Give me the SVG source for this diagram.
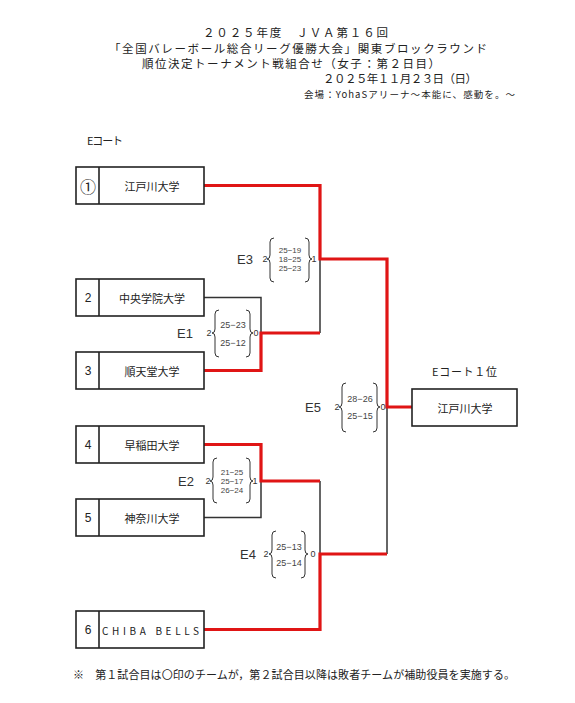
<svg xmlns="http://www.w3.org/2000/svg" width="575" height="703" viewBox="0 0 575 703">
<style>
text{font-family:"Noto Sans CJK JP","Liberation Sans",sans-serif;fill:#222}
.t{font-size:11.5px}
.box{fill:#fff;stroke:#222;stroke-width:1.6}
.nm{font-size:11px;text-anchor:middle;dominant-baseline:central}
.num{font-size:12px;text-anchor:middle;dominant-baseline:central;font-family:"Liberation Sans","Noto Sans CJK JP",sans-serif}
.red{fill:none;stroke:#e01515;stroke-width:3.2}
.blk{fill:none;stroke:#333;stroke-width:1.5}
.br{fill:none;stroke:#333;stroke-width:1}
.sc{font-size:9px;text-anchor:middle;dominant-baseline:central;font-family:"Liberation Sans",sans-serif;fill:#444}
.sc3{font-size:8px}
.lb{font-size:13px;dominant-baseline:central;font-family:"Liberation Sans",sans-serif;fill:#333}
.sm{font-size:9px;dominant-baseline:central;font-family:"Liberation Sans",sans-serif;fill:#333}
</style>
<rect width="575" height="703" fill="#fff"/>
<g id="title">
<text class="t" x="203" y="37" textLength="185">２０２５年度　ＪＶＡ第１６回</text>
<text class="t" x="109" y="52.5" textLength="378">「全国バレーボール総合リーグ優勝大会」関東ブロックラウンド</text>
<text class="t" x="142" y="68" textLength="298">順位決定トーナメント戦組合せ（女子：第２日目）</text>
<text class="t" x="323" y="83" textLength="154">２０２５年１１月２３日（日）</text>
<text x="304" y="98" font-size="9.5" textLength="211">会場：YohaSアリーナ～本能に、感動を。～</text>
</g>
<text x="87" y="145" font-size="11" textLength="36">Eコート</text>
<g id="connectors">
<path class="blk" d="M204,297.5H261V333"/>
<path class="blk" d="M320,259V333"/>
<path class="blk" d="M204,517.5H261V481"/>
<path class="blk" d="M320,481V554"/>
<path class="blk" d="M387,407V554"/>
<path class="red" d="M204,185.5H320V259H387V407H412"/>
<path class="red" d="M204,370.5H261V333H320"/>
<path class="red" d="M204,444.5H261V481H320"/>
<path class="red" d="M204,629.5H320V554H387"/>
</g>
<g id="team1"><rect class="box" x="76" y="167" width="128" height="37"/><line class="box" x1="99" y1="167" x2="99" y2="204"/><text x="88" y="186" font-size="16" text-anchor="middle" dominant-baseline="central">①</text><text class="nm" x="152" y="186">江戸川大学</text></g>
<g id="team2"><rect class="box" x="76" y="279" width="128" height="37"/><line class="box" x1="99" y1="279" x2="99" y2="316"/><text class="num" x="88" y="298">2</text><text class="nm" x="152" y="298">中央学院大学</text></g>
<g id="team3"><rect class="box" x="76" y="352" width="128" height="37"/><line class="box" x1="99" y1="352" x2="99" y2="389"/><text class="num" x="88" y="371">3</text><text class="nm" x="152" y="371">順天堂大学</text></g>
<g id="team4"><rect class="box" x="76" y="426" width="128" height="37"/><line class="box" x1="99" y1="426" x2="99" y2="463"/><text class="num" x="88" y="445">4</text><text class="nm" x="152" y="445">早稲田大学</text></g>
<g id="team5"><rect class="box" x="76" y="499" width="128" height="37"/><line class="box" x1="99" y1="499" x2="99" y2="536"/><text class="num" x="88" y="518">5</text><text class="nm" x="152" y="518">神奈川大学</text></g>
<g id="team6"><rect class="box" x="76" y="611" width="128" height="37"/><line class="box" x1="99" y1="611" x2="99" y2="648"/><text class="num" x="88" y="630">6</text><text x="102" y="630" font-size="10" dominant-baseline="central" font-family="Liberation Sans,sans-serif" textLength="97">CHIBA BELLS</text></g>
<g id="winner"><text x="432" y="371" font-size="11" dominant-baseline="central" textLength="65">Eコート１位</text><rect class="box" x="412" y="389" width="105" height="37"/><text class="nm" x="465" y="408">江戸川大学</text></g>
<g id="E3">
<text class="lb" x="237" y="259">E3</text>
<path class="br" d="M274,238Q270,238 270,242V255Q270,259 267,259Q270,259 270,263V278Q270,282 274,282"/>
<path class="br" d="M305,238Q309,238 309,242V255Q309,259 312,259Q309,259 309,263V278Q309,282 305,282"/>
<text class="sm" x="265" y="259" text-anchor="middle">2</text>
<text class="sm" x="314" y="259" text-anchor="middle">1</text>
<text class="sc sc3" x="290" y="250">25−19</text><text class="sc sc3" x="290" y="259">18−25</text><text class="sc sc3" x="290" y="268">25−23</text>
</g>
<g id="E1">
<text class="lb" x="177" y="333">E1</text>
<path class="br" d="M219,310Q215,310 215,314V329Q215,333 212,333Q215,333 215,337V353Q215,357 219,357"/>
<path class="br" d="M246,310Q250,310 250,314V329Q250,333 253,333Q250,333 250,337V353Q250,357 246,357"/>
<text class="sm" x="209" y="333" text-anchor="middle">2</text>
<text class="sm" x="256" y="333" text-anchor="middle">0</text>
<text class="sc" x="233" y="325">25−23</text><text class="sc" x="233" y="343">25−12</text>
</g>
<g id="E5">
<text class="lb" x="305" y="407">E5</text>
<path class="br" d="M346,383Q342,383 342,387V403Q342,407 339,407Q342,407 342,411V428Q342,432 346,432"/>
<path class="br" d="M373,383Q377,383 377,387V403Q377,407 380,407Q377,407 377,411V428Q377,432 373,432"/>
<text class="sm" x="337" y="407" text-anchor="middle">2</text>
<text class="sm" x="383" y="407" text-anchor="middle">0</text>
<text class="sc" x="360" y="399">28−26</text><text class="sc" x="360" y="416">25−15</text>
</g>
<g id="E2">
<text class="lb" x="178" y="481">E2</text>
<path class="br" d="M217,458Q213,458 213,462V477Q213,481 210,481Q213,481 213,485V499Q213,503 217,503"/>
<path class="br" d="M246,458Q250,458 250,462V477Q250,481 253,481Q250,481 250,485V499Q250,503 246,503"/>
<text class="sm" x="208" y="481" text-anchor="middle">2</text>
<text class="sm" x="255" y="481" text-anchor="middle">1</text>
<text class="sc sc3" x="232" y="472">21−25</text><text class="sc sc3" x="232" y="481">25−17</text><text class="sc sc3" x="232" y="490">26−24</text>
</g>
<g id="E4">
<text class="lb" x="240" y="554">E4</text>
<path class="br" d="M276,531Q272,531 272,535V550Q272,554 269,554Q272,554 272,558V574Q272,578 276,578"/>
<path class="br" d="M301,531Q305,531 305,535V550Q305,554 308,554Q305,554 305,558V574Q305,578 301,578"/>
<text class="sm" x="266" y="554" text-anchor="middle">2</text>
<text class="sm" x="313" y="554" text-anchor="middle">0</text>
<text class="sc" x="289" y="547">25−13</text><text class="sc" x="289" y="563">25−14</text>
</g>
<text x="73" y="679" font-size="11" textLength="442">※　第１試合目は〇印のチームが，第２試合目以降は敗者チームが補助役員を実施する。</text>
</svg>
